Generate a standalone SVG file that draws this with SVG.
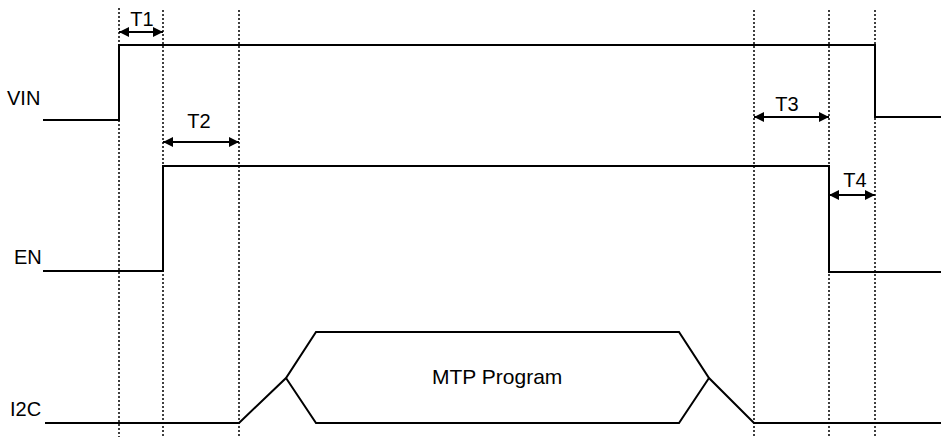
<svg xmlns="http://www.w3.org/2000/svg" width="941" height="437" viewBox="0 0 941 437">
<style>
.sig{fill:none;stroke:#000;stroke-width:2;stroke-linejoin:miter}
.dot{fill:none;stroke:#000;stroke-width:1.5;stroke-dasharray:2 2}
.dim{fill:none;stroke:#000;stroke-width:2}
text{font-family:"Liberation Sans",Arial,sans-serif;font-size:20px;fill:#000}
</style>
<defs>
<marker id="ah" viewBox="0 0 10 10" refX="10" refY="5" markerWidth="10" markerHeight="10" markerUnits="userSpaceOnUse" orient="auto-start-reverse">
<path d="M0,0 L10,5 L0,10 z" fill="#000"/>
</marker>
</defs>
<rect width="941" height="437" fill="#fff"/>
<g id="guides">
<line class="dot" x1="119" y1="8" x2="119" y2="437"/>
<line class="dot" x1="163" y1="10" x2="163" y2="437"/>
<line class="dot" x1="239" y1="10" x2="239" y2="437"/>
<line class="dot" x1="754" y1="10" x2="754" y2="437"/>
<line class="dot" x1="829" y1="10" x2="829" y2="437"/>
<line class="dot" x1="875" y1="10" x2="875" y2="437"/>
</g>
<g id="labels">
<text x="7" y="105">VIN</text>
<text x="14" y="264">EN</text>
<text x="10" y="416">I2C</text>
</g>
<g id="VIN">
<polyline class="sig" points="43,120 119,120 119,45 875,45 875,117 941,117"/>
</g>
<g id="EN">
<polyline class="sig" points="43,271 163,271 163,166 829,166 829,272 941,272"/>
</g>
<g id="I2C">
<polyline class="sig" points="45,423 239,423 286,378 316,332 679,332 709,378 754,423 941,423"/>
<polyline class="sig" points="286,378 316,423 679,423 709,378"/>
<text x="432" y="384" style="font-size:21px">MTP Program</text>
</g>
<g id="connectors">
<line class="dim" x1="119" y1="32" x2="163" y2="32" marker-start="url(#ah)" marker-end="url(#ah)"/>
<line class="dim" x1="163" y1="142" x2="239" y2="142" marker-start="url(#ah)" marker-end="url(#ah)"/>
<line class="dim" x1="754" y1="117" x2="829" y2="117" marker-start="url(#ah)" marker-end="url(#ah)"/>
<line class="dim" x1="829" y1="195" x2="875" y2="195" marker-start="url(#ah)" marker-end="url(#ah)"/>
</g>
<g id="dimlabels">
<text x="142" y="26" text-anchor="middle">T1</text>
<text x="199" y="128" text-anchor="middle">T2</text>
<text x="787" y="111" text-anchor="middle">T3</text>
<text x="855" y="187" text-anchor="middle">T4</text>
</g>
</svg>
